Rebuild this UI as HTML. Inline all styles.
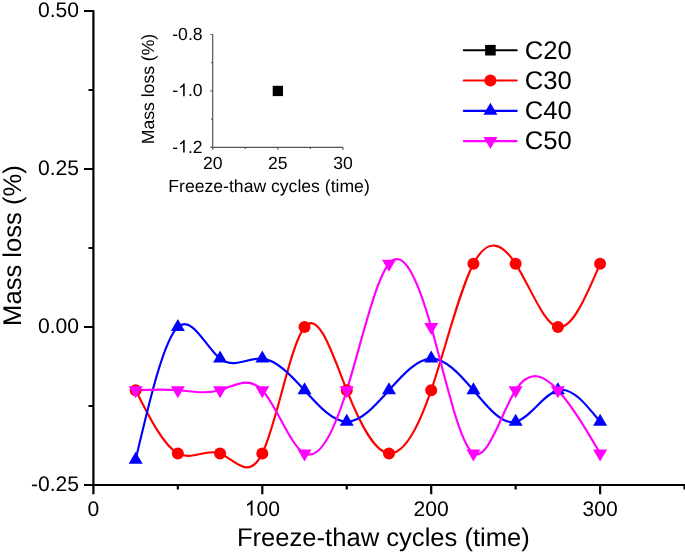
<!DOCTYPE html>
<html><head><meta charset="utf-8"><style>
html,body{margin:0;padding:0;background:#fff;}
svg{display:block;font-family:"Liberation Sans",sans-serif;will-change:transform;}
text{text-rendering:geometricPrecision;}
</style></head><body>
<svg width="685" height="555" viewBox="0 0 685 555">
<rect width="685" height="555" fill="#fff"/>
<path d="M84,11.00 H93.40 V485.00 H685" fill="none" stroke="#000" stroke-width="2.2" stroke-linejoin="round"/>
<path d="M84.00,169.00 H93.40 M84.00,327.00 H93.40 M84.00,485.00 H93.40 M88.50,90.00 H93.40 M88.50,248.00 H93.40 M88.50,406.00 H93.40 M93.40,485.00 V494.30 M262.30,485.00 V494.30 M431.20,485.00 V494.30 M600.10,485.00 V494.30 M177.85,485.00 V489.50 M346.75,485.00 V489.50 M515.65,485.00 V489.50 M684.55,485.00 V489.50" fill="none" stroke="#000" stroke-width="2.2"/>
<text x="38.03" y="16.80" font-size="21.1">0.50</text>
<text x="38.03" y="174.80" font-size="21.1">0.25</text>
<text x="38.03" y="332.80" font-size="21.1">0.00</text>
<text x="31.01" y="490.80" font-size="21.1">-0.25</text>
<text x="87.53" y="515.60" font-size="21.1">0</text>
<text x="244.70" y="515.60" font-size="21.1"> 00</text>
<path d="M252.56,515.60 L250.70,515.60 L250.70,503.78 Q250.03,504.42 248.97,505.04 Q247.91,505.67 247.00,506.01 L247.00,504.22 Q248.56,503.48 249.57,502.56 Q250.58,501.64 251.16,500.50 L252.56,500.50Z" fill="#000"/>
<text x="413.60" y="515.60" font-size="21.1">200</text>
<text x="582.50" y="515.60" font-size="21.1">300</text>
<text x="236.90" y="546.4" font-size="25.6">Freeze-thaw cycles (time)</text>
<text transform="translate(21.3,325.90) rotate(-90)" x="0" y="0" font-size="25.6">Mass loss (%)</text>
<path d="M135.62,390.20 C149.70,418.04 163.78,445.87 177.85,453.40 C191.93,460.93 206.00,448.15 220.08,453.40 C234.15,458.65 248.23,481.91 262.30,453.40 C276.38,424.89 290.45,344.59 304.52,327.00 C318.60,309.41 332.68,354.54 346.75,390.20 C360.82,425.86 374.90,452.06 388.98,453.40 C403.05,454.74 417.13,431.24 431.20,390.20 C445.28,349.16 459.35,290.59 473.43,263.80 C487.50,237.01 501.57,242.00 515.65,263.80 C529.73,285.60 543.80,324.20 557.88,327.00 C571.95,329.80 586.02,296.80 600.10,263.80" fill="none" stroke="#ff0000" stroke-width="2.15"/>
<path d="M135.62,459.72 C149.70,399.87 163.78,340.02 177.85,327.00 C191.93,313.98 206.00,347.78 220.08,358.60 C234.15,369.42 248.23,357.27 262.30,358.60 C276.38,359.93 290.45,374.75 304.52,390.20 C318.60,405.65 332.68,421.72 346.75,421.80 C360.82,421.88 374.90,405.96 388.98,390.20 C403.05,374.44 417.13,358.83 431.20,358.60 C445.28,358.37 459.35,373.52 473.43,390.20 C487.50,406.88 501.57,425.07 515.65,421.80 C529.73,418.53 543.80,393.78 557.88,390.20 C571.95,386.62 586.02,404.21 600.10,421.80" fill="none" stroke="#0000ff" stroke-width="2.15"/>
<path d="M135.62,390.20 C149.70,389.63 163.78,389.05 177.85,390.20 C191.93,391.35 206.00,394.22 220.08,390.20 C234.15,386.18 248.23,375.28 262.30,390.20 C276.38,405.12 290.45,445.86 304.52,453.40 C318.60,460.94 332.68,435.26 346.75,390.20 C360.82,345.14 374.90,280.68 388.98,263.80 C403.05,246.92 417.13,277.61 431.20,327.00 C445.28,376.39 459.35,444.49 473.43,453.40 C487.50,462.31 501.57,412.05 515.65,390.20 C529.73,368.35 543.80,374.93 557.88,390.20 C571.95,405.47 586.02,429.44 600.10,453.40" fill="none" stroke="#ff00ff" stroke-width="2.15"/>
<circle cx="135.62" cy="390.20" r="6" fill="#ff0000"/>
<circle cx="177.85" cy="453.40" r="6" fill="#ff0000"/>
<circle cx="220.08" cy="453.40" r="6" fill="#ff0000"/>
<circle cx="262.30" cy="453.40" r="6" fill="#ff0000"/>
<circle cx="304.52" cy="327.00" r="6" fill="#ff0000"/>
<circle cx="346.75" cy="390.20" r="6" fill="#ff0000"/>
<circle cx="388.98" cy="453.40" r="6" fill="#ff0000"/>
<circle cx="431.20" cy="390.20" r="6" fill="#ff0000"/>
<circle cx="473.43" cy="263.80" r="6" fill="#ff0000"/>
<circle cx="515.65" cy="263.80" r="6" fill="#ff0000"/>
<circle cx="557.88" cy="327.00" r="6" fill="#ff0000"/>
<circle cx="600.10" cy="263.80" r="6" fill="#ff0000"/>
<path d="M135.62,451.72 L142.62,463.72 L128.62,463.72Z" fill="#0000ff"/>
<path d="M177.85,319.00 L184.85,331.00 L170.85,331.00Z" fill="#0000ff"/>
<path d="M220.08,350.60 L227.08,362.60 L213.08,362.60Z" fill="#0000ff"/>
<path d="M262.30,350.60 L269.30,362.60 L255.30,362.60Z" fill="#0000ff"/>
<path d="M304.52,382.20 L311.52,394.20 L297.52,394.20Z" fill="#0000ff"/>
<path d="M346.75,413.80 L353.75,425.80 L339.75,425.80Z" fill="#0000ff"/>
<path d="M388.98,382.20 L395.98,394.20 L381.98,394.20Z" fill="#0000ff"/>
<path d="M431.20,350.60 L438.20,362.60 L424.20,362.60Z" fill="#0000ff"/>
<path d="M473.43,382.20 L480.43,394.20 L466.43,394.20Z" fill="#0000ff"/>
<path d="M515.65,413.80 L522.65,425.80 L508.65,425.80Z" fill="#0000ff"/>
<path d="M557.88,382.20 L564.88,394.20 L550.88,394.20Z" fill="#0000ff"/>
<path d="M600.10,413.80 L607.10,425.80 L593.10,425.80Z" fill="#0000ff"/>
<path d="M135.62,398.20 L142.62,386.20 L128.62,386.20Z" fill="#ff00ff"/>
<path d="M177.85,398.20 L184.85,386.20 L170.85,386.20Z" fill="#ff00ff"/>
<path d="M220.08,398.20 L227.08,386.20 L213.08,386.20Z" fill="#ff00ff"/>
<path d="M262.30,398.20 L269.30,386.20 L255.30,386.20Z" fill="#ff00ff"/>
<path d="M304.52,461.40 L311.52,449.40 L297.52,449.40Z" fill="#ff00ff"/>
<path d="M346.75,398.20 L353.75,386.20 L339.75,386.20Z" fill="#ff00ff"/>
<path d="M388.98,271.80 L395.98,259.80 L381.98,259.80Z" fill="#ff00ff"/>
<path d="M431.20,335.00 L438.20,323.00 L424.20,323.00Z" fill="#ff00ff"/>
<path d="M473.43,461.40 L480.43,449.40 L466.43,449.40Z" fill="#ff00ff"/>
<path d="M515.65,398.20 L522.65,386.20 L508.65,386.20Z" fill="#ff00ff"/>
<path d="M557.88,398.20 L564.88,386.20 L550.88,386.20Z" fill="#ff00ff"/>
<path d="M600.10,461.40 L607.10,449.40 L593.10,449.40Z" fill="#ff00ff"/>
<path d="M212.7,34.5 V147.4 H343.0" fill="none" stroke="#555" stroke-width="1.2"/>
<path d="M210.40,34.50 H212.7 M210.40,90.95 H212.7 M210.40,147.40 H212.7 M212.70,147.4 V149.70 M277.85,147.4 V149.70 M343.00,147.4 V149.70 M245.27,147.4 V149.00 M310.43,147.4 V149.00 M211.10,62.72 H212.7 M211.10,119.18 H212.7" fill="none" stroke="#555" stroke-width="1.2"/>
<text x="172.27" y="39.70" font-size="17.6">-0.8</text>
<text x="172.27" y="96.15" font-size="17.6">- .0</text>
<path d="M184.69,96.15 L183.14,96.15 L183.14,86.29 Q182.59,86.83 181.70,87.34 Q180.81,87.87 180.05,88.15 L180.05,86.65 Q181.36,86.04 182.20,85.27 Q183.04,84.51 183.52,83.55 L184.69,83.55Z" fill="#000"/>
<text x="172.27" y="152.60" font-size="17.6">- .2</text>
<path d="M184.69,152.60 L183.14,152.60 L183.14,142.74 Q182.59,143.28 181.70,143.79 Q180.81,144.32 180.05,144.60 L180.05,143.10 Q181.36,142.49 182.20,141.72 Q183.04,140.96 183.52,140.00 L184.69,140.00Z" fill="#000"/>
<text x="202.91" y="168.50" font-size="17.6">20</text>
<text x="268.06" y="168.50" font-size="17.6">25</text>
<text x="333.21" y="168.50" font-size="17.6">30</text>
<text x="168.36" y="191.7" font-size="17.6">Freeze-thaw cycles (time)</text>
<text transform="translate(153.9,144.24) rotate(-90)" font-size="17.6">Mass loss (%)</text>
<rect x="272.70" y="85.80" width="10.3" height="10.3" fill="#000000"/>
<path d="M463.8,50.20 H516.7" stroke="#000000" stroke-width="2.15" stroke-linecap="round"/>
<rect x="485.10" y="44.90" width="10.6" height="10.6" fill="#000000"/>
<text x="524.80" y="58.80" font-size="25.6">C20</text>
<path d="M463.8,80.50 H516.7" stroke="#ff0000" stroke-width="2.15" stroke-linecap="round"/>
<circle cx="490.40" cy="80.50" r="6" fill="#ff0000"/>
<text x="524.80" y="88.90" font-size="25.6">C30</text>
<path d="M463.8,110.80 H516.7" stroke="#0000ff" stroke-width="2.15" stroke-linecap="round"/>
<path d="M490.40,102.80 L497.40,114.80 L483.40,114.80Z" fill="#0000ff"/>
<text x="524.80" y="119.00" font-size="25.6">C40</text>
<path d="M463.8,141.10 H516.7" stroke="#ff00ff" stroke-width="2.15" stroke-linecap="round"/>
<path d="M490.40,149.10 L497.40,137.10 L483.40,137.10Z" fill="#ff00ff"/>
<text x="524.80" y="149.10" font-size="25.6">C50</text>
</svg>
</body></html>
